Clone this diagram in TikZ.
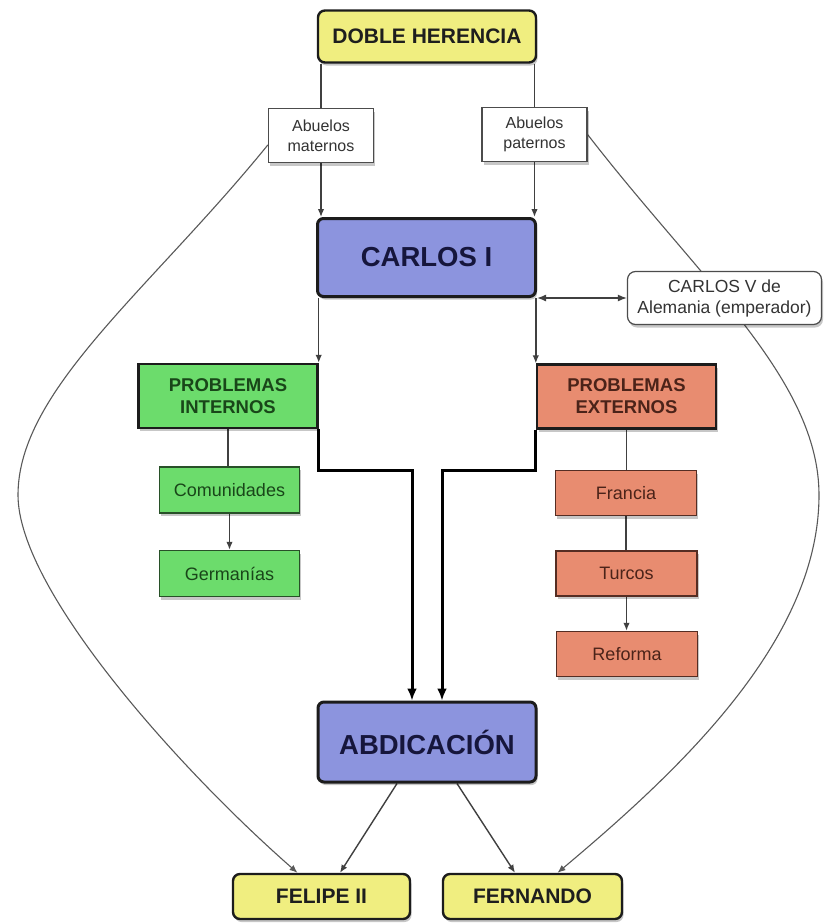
\documentclass[tikz,border=0pt]{standalone}
\usepackage{fontspec}
\setmainfont{Liberation Sans}
\usetikzlibrary{arrows.meta,shadows,backgrounds,calc}
\definecolor{ylw}{RGB}{240,238,128}
\definecolor{blu}{RGB}{140,148,222}
\definecolor{grn}{RGB}{108,220,108}
\definecolor{slm}{RGB}{232,140,112}
\definecolor{edge}{RGB}{28,28,28}
\definecolor{txt}{RGB}{30,30,30}
\definecolor{bluetxt}{RGB}{22,22,60}
\definecolor{grntxt}{RGB}{25,70,25}
\definecolor{slmtxt}{RGB}{75,35,25}
\definecolor{grnedge}{RGB}{40,80,40}
\definecolor{slmedge}{RGB}{85,45,35}
\tikzset{
  base/.style={align=center, inner sep=0pt,
    drop shadow={shadow xshift=1.5pt, shadow yshift=-3pt, opacity=0.22, fill=black}},
  yellowbox/.style={base, fill=ylw, draw=edge, line width=2.4pt, rounded corners=7pt,
    font=\fontsize{21}{25}\selectfont\bfseries, text=txt},
  bluebox/.style={base, fill=blu, draw=edge, line width=3pt, rounded corners=6pt,
    font=\fontsize{27.5}{31}\selectfont\bfseries, text=bluetxt},
  greenhead/.style={base, fill=grn, draw=edge, line width=2.4pt,
    font=\fontsize{18.5}{22}\selectfont\bfseries, text=grntxt},
  greenitem/.style={base, fill=grn, draw=grnedge, line width=1.5pt,
    font=\fontsize{18}{21}\selectfont, text=grntxt},
  salmonhead/.style={base, fill=slm, draw=edge, line width=2.4pt,
    font=\fontsize{18.5}{22}\selectfont\bfseries, text=slmtxt},
  salmonitem/.style={base, fill=slm, draw=slmedge, line width=1.5pt,
    font=\fontsize{18}{21}\selectfont, text=slmtxt},
  whitebox/.style={base, fill=white, draw=black!70, line width=1.2pt,
    font=\fontsize{16}{20}\selectfont, text=black!80},
  conn/.style={draw=black!75, line width=1.4pt},
  arr/.style={conn, -{Latex[length=8pt,width=6.5pt]}},
  dblarr/.style={conn, {Latex[length=9pt,width=7pt]}-{Latex[length=9pt,width=7pt]}},
  bigarr/.style={draw=black, line width=3pt, -{Latex[length=12pt,width=10pt]}},
  curve/.style={draw=black!65, line width=1.1pt, -{Latex[length=8pt,width=6.5pt]}},
}
\begin{document}
\begin{tikzpicture}[x=1pt,y=-1pt]
\useasboundingbox (0,0) rectangle (824,924);

\node[yellowbox, minimum width=218pt, minimum height=52pt] (dh) at (427,36.5) {DOBLE HERENCIA};
\node[whitebox, minimum width=105pt, minimum height=54pt] (am) at (321,135.5) {Abuelos\\maternos};
\node[whitebox, minimum width=105pt, minimum height=54pt] (ap) at (534.5,134.5) {Abuelos\\paternos};
\node[bluebox, minimum width=218pt, minimum height=78pt] (c1) at (426.5,257.5) {CARLOS I};
\node[whitebox, rounded corners=8pt, font=\fontsize{17.5}{21}\selectfont, minimum width=194pt, minimum height=53pt] (c5) at (724.5,298) {CARLOS V de\\Alemania (emperador)};
\node[greenhead, minimum width=179pt, minimum height=64pt] (pi) at (228,396) {PROBLEMAS\\INTERNOS};
\node[salmonhead, minimum width=179pt, minimum height=64pt] (pe) at (626.5,396.5) {PROBLEMAS\\EXTERNOS};
\node[greenitem, minimum width=140pt, minimum height=46pt] (com) at (229.5,490) {Comunidades};
\node[greenitem, minimum width=140pt, minimum height=46pt] (ger) at (229.5,573.5) {Germanías};
\node[salmonitem, minimum width=141pt, minimum height=45pt] (fra) at (626,493) {Francia};
\node[salmonitem, minimum width=141pt, minimum height=45pt] (tur) at (626.5,573.5) {Turcos};
\node[salmonitem, minimum width=141pt, minimum height=45pt] (ref) at (627,654) {Reforma};
\node[bluebox, minimum width=218pt, minimum height=80pt] (abd) at (427,742) {ABDICACIÓN};
\node[yellowbox, minimum width=177pt, minimum height=45pt] (fel) at (321.5,896.5) {FELIPE II};
\node[yellowbox, minimum width=179pt, minimum height=45pt] (fer) at (532.5,896.5) {FERNANDO};

\coordinate (kL) at (412,470);
\coordinate (kR) at (442,470);
\coordinate (Lm) at (18,495);
\coordinate (Rm) at (819,495);

\begin{scope}[on background layer]
\fill[white] (0,0) rectangle (824,924);
\draw[conn] (am.north |- dh.south) -- (am.north);
\draw[conn] (ap.north |- dh.south) -- (ap.north);
\draw[arr] (am.south) -- (am.south |- c1.north);
\draw[arr] (ap.south) -- (ap.south |- c1.north);
\draw[arr] (pi.north east |- c1.south) -- (pi.north east);
\draw[arr] (pe.north west |- c1.south) -- (pe.north west);
\draw[dblarr] (c1.south east) -- (c1.south east -| c5.west);
\draw[conn] (pi.south) -- (pi.south |- com.north);
\draw[arr] (com.south) -- (com.south |- ger.north);
\draw[conn] (pe.south) -- (pe.south |- fra.north);
\draw[conn] (fra.south) -- (fra.south |- tur.north);
\draw[arr] (tur.south) -- (tur.south |- ref.north);
\draw[bigarr] (pi.south east) |- (kL) -- (kL |- abd.north);
\draw[bigarr] (pe.south west) |- (kR) -- (kR |- abd.north);
\draw[arr] ($(abd.south)+(-30,0)$) -- ($(fel.north)+(18.5,0)$);
\draw[arr] ($(abd.south)+(30,0)$) -- ($(fer.north)+(-17.5,0)$);
\draw[curve] (am.190) .. controls (150,290) and (18,390) .. (Lm)
  .. controls (18,590) and (180,770) .. ($(fel.north)+(-24,0)$);
\draw[curve] (ap.east) .. controls (700,280) and (819,380) .. (Rm)
  .. controls (819,640) and (680,770) .. ($(fer.north)+(25,0)$);
\end{scope}
\end{tikzpicture}
\end{document}
